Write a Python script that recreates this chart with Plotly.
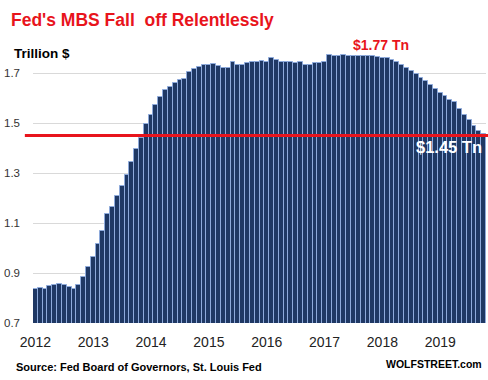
import pandas as pd
import plotly.graph_objects as go

# Monthly MBS holdings, trillion $ (Jan 2012 .. Oct 2019)
mbs_values = [
    0.838, 0.842, 0.838, 0.850, 0.854, 0.858, 0.854, 0.846, 0.838, 0.854, 0.886, 0.926,
    0.966, 1.018, 1.070, 1.138, 1.166, 1.207, 1.247, 1.291, 1.343, 1.395, 1.439, 1.495,
    1.531, 1.571, 1.603, 1.632, 1.646, 1.662, 1.673, 1.677, 1.704, 1.716, 1.726, 1.734,
    1.734, 1.738, 1.730, 1.720, 1.720, 1.744, 1.734, 1.734, 1.740, 1.744, 1.744, 1.748,
    1.744, 1.759, 1.752, 1.744, 1.744, 1.744, 1.740, 1.744, 1.734, 1.734, 1.740, 1.740,
    1.744, 1.771, 1.767, 1.767, 1.771, 1.767, 1.767, 1.767, 1.767, 1.767, 1.767, 1.763,
    1.759, 1.759, 1.752, 1.744, 1.732, 1.720, 1.708, 1.696, 1.680, 1.668, 1.652, 1.636,
    1.620, 1.608, 1.592, 1.584, 1.556, 1.532, 1.512, 1.488, 1.468, 1.458,
]
months = [d.strftime("%Y-%m") for d in pd.date_range("2012-01-01", periods=len(mbs_values), freq="MS")]
year_labels = ["2012", "2013", "2014", "2015", "2016", "2017", "2018", "2019"]
year_ticks = [y + "-01" for y in year_labels]
y_ticks = [0.7, 0.9, 1.1, 1.3, 1.5, 1.7]
current_level = 1.45
peak_label = "$1.77 Tn"
current_label = "$1.45 Tn"

FONT = "Liberation Sans, Arial, sans-serif"
RED = "#e8141c"

fig = go.Figure()
fig.add_trace(go.Bar(
    x=months, y=mbs_values,
    marker=dict(color="#1f3864", line=dict(color="#8eaadb", width=1)),
    hoverinfo="x+y",
))

fig.update_layout(
    width=488, height=380,
    margin=dict(l=33, r=2, t=48, b=57),
    paper_bgcolor="white", plot_bgcolor="white",
    bargap=0, showlegend=False,
    font=dict(family=FONT, color="#333333"),
    xaxis=dict(
        type="category",
        tickmode="array", tickvals=year_ticks, ticktext=year_labels,
        tickfont=dict(size=14, color="#222222"),
        showgrid=False, showline=False, ticks="",
        ticklabelstandoff=9,
    ),
    yaxis=dict(
        range=[0.7, 1.8],
        tickmode="array", tickvals=y_ticks, ticktext=[f"{v:.1f}" for v in y_ticks],
        tickfont=dict(size=11.5, color="#333333"),
        showgrid=True, gridcolor="#d9d9d9", gridwidth=1,
        zeroline=False, showline=False, ticks="",
        ticklabelstandoff=12,
    ),
)

fig.add_shape(type="line", xref="paper", yref="y",
              x0=-0.018, x1=1.01, y0=current_level, y1=current_level,
              line=dict(color=RED, width=3), layer="above")

fig.add_annotation(xref="paper", yref="paper", x=-0.053, y=1.0 + (48 - 20) / 275,
                   xanchor="left", yanchor="middle", showarrow=False,
                   text="<b>Fed's MBS Fall\u00a0 off Relentlessly</b>",
                   font=dict(size=17.5, color=RED, family=FONT))
fig.add_annotation(xref="paper", yref="paper", x=-0.047, y=1.0 + (48 - 53) / 275,
                   xanchor="left", yanchor="middle", showarrow=False,
                   text="<b>Trillion $</b>", font=dict(size=13.5, color="black", family=FONT))
fig.add_annotation(xref="paper", yref="paper", x=(351 - 33) / 453, y=1.0 + (48 - 44.5) / 275,
                   xanchor="left", yanchor="middle", showarrow=False,
                   text=f"<b>{peak_label}</b>", font=dict(size=14, color=RED, family=FONT))
fig.add_annotation(xref="paper", yref="paper", x=(484 - 33) / 453, y=1.0 - (147 - 48) / 275,
                   xanchor="right", yanchor="middle", showarrow=False,
                   text=f"<b>{current_label}</b>", font=dict(size=16.5, color="white", family=FONT))
fig.add_annotation(xref="paper", yref="paper", x=(14 - 33) / 453, y=-(367 - 323) / 275,
                   xanchor="left", yanchor="middle", showarrow=False,
                   text="<b>Source: Fed Board of Governors, St. Louis Fed</b>",
                   font=dict(size=11, color="black", family=FONT))
fig.add_annotation(xref="paper", yref="paper", x=(484 - 33) / 453, y=-(364 - 323) / 275,
                   xanchor="right", yanchor="middle", showarrow=False,
                   text="<b>WOLFSTREET.com</b>", font=dict(size=10.5, color="black", family=FONT))

fig.write_html("out.html", config={"displayModeBar": False},
               post_script="document.body.style.margin='0';")
